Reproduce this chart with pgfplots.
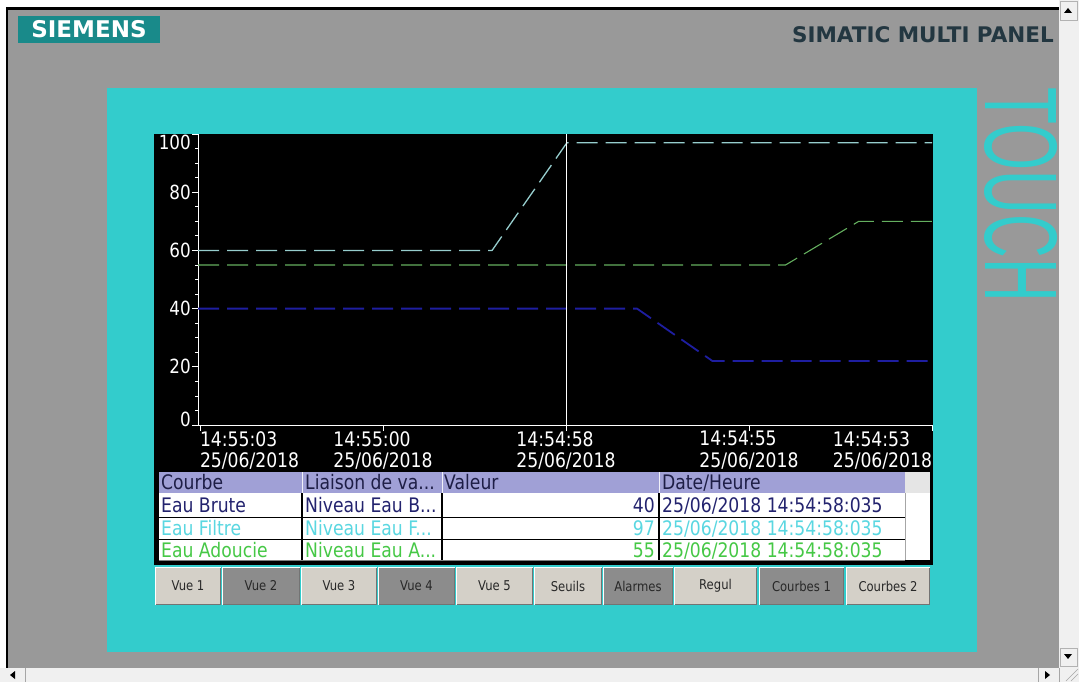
\documentclass[border=0pt]{standalone}
\usepackage{pgfplots}
\pgfplotsset{compat=1.18}
\usepackage{fontspec}
\setmainfont{DejaVu Sans}[FakeStretch=0.86]
\newfontfamily\boldsans{DejaVu Sans}
\newfontfamily\touchfont{Liberation Sans}
\definecolor{bggray}{RGB}{153,153,153}
\definecolor{panelcyan}{RGB}{51,204,204}
\definecolor{siemensteal}{RGB}{25,138,138}
\definecolor{simatic}{RGB}{35,55,65}
\definecolor{barbg}{RGB}{240,240,240}
\definecolor{hdr}{RGB}{160,160,214}
\definecolor{hdrtext}{RGB}{30,30,70}
\definecolor{cbrute}{RGB}{35,35,110}
\definecolor{cfiltre}{RGB}{90,215,225}
\definecolor{cadouc}{RGB}{70,200,70}
\definecolor{lbrute}{RGB}{30,30,160}
\definecolor{lfiltre}{RGB}{150,205,205}
\definecolor{ladouc}{RGB}{100,175,95}
\definecolor{btnlight}{RGB}{212,208,200}
\definecolor{btndark}{RGB}{140,140,140}
\definecolor{btntext}{RGB}{40,40,40}
\newcommand\tl[2]{\begin{tabular}{@{}l@{}}#1\\#2\end{tabular}}
\begin{document}
\begin{tikzpicture}[x=1pt,y=-1pt]
% background
\fill[white] (0,0) rectangle (1079,682);
\fill[bggray] (8,10) rectangle (1059,668);
\fill[black] (6,7) rectangle (1059,10);
\fill[black] (6,7) rectangle (8,668);
% right scrollbar
\fill[barbg] (1059,0) rectangle (1079,668);
\draw[gray!60] (1060.5,1.5) rectangle (1077.5,20);
\fill[black] (1064,13) -- (1072,13) -- (1068,8) -- cycle;
\draw[gray!60] (1060.5,648) rectangle (1077.5,666);
\fill[black] (1064,654) -- (1072,654) -- (1068,659) -- cycle;
% bottom scrollbar
\fill[barbg] (0,668) rectangle (1079,682);
\draw[gray!70] (25,668) -- (25,682);
\fill[black] (15,671) -- (15,679) -- (10,675) -- cycle;
\draw[gray!70] (1038,668) -- (1038,682);
\fill[black] (1045,671) -- (1045,679) -- (1050,675) -- cycle;
\draw[gray!70] (1059,668) -- (1059,682);
\draw[gray!70] (1066,681) -- (1078,669) (1071,681) -- (1078,674);
% SIEMENS logo
\fill[siemensteal] (18,16) rectangle (160,43);
\node[text=white, inner sep=0pt] at (89,29.5) {\boldsans\bfseries\fontsize{23}{23}\selectfont SIEMENS};
\node[text=simatic, inner sep=0pt, anchor=east] at (1054,35) {\boldsans\bfseries\fontsize{21.5}{22}\selectfont SIMATIC MULTI PANEL};
% cyan panel
\fill[panelcyan] (107,88) rectangle (977,652);
\node[rotate=-90, inner sep=0pt, text=panelcyan] at (1021,195) {\resizebox{214pt}{72pt}{\touchfont TOUCH}};
% black chart region
\fill[black] (154,134) rectangle (933,565);
\begin{axis}[
  at={(198pt,-425pt)}, anchor=south west,
  scale only axis, width=734pt, height=291pt,
  xmin=-0.011, xmax=4, ymin=0, ymax=100,
  axis x line=bottom, axis y line=left,
  axis line style={white, line width=0.9pt, -},
  xtick={0,1,2,3,4},
  xticklabels={
    {\makebox[0pt][l]{\tl{14:55:03}{25/06/2018}}},
    {\tl{14:55:00}{25/06/2018}},
    {\tl{14:54:58}{25/06/2018}},
    {\tl{14:54:55}{25/06/2018}},
    {\makebox[0pt][r]{\tl{14:54:53}{25/06/2018}}}},
  ytick={0,20,40,60,80,100},
  yticklabels={{\raisebox{6pt}[\height][\depth]{0}},20,40,60,80,{\raisebox{-8pt}[\height][\depth]{100}}},
  minor y tick num=3,
  tick align=outside,
  major tick length=6pt, minor tick length=3pt,
  tick style={white, line width=0.8pt},
  xticklabel style={white, font=\fontsize{20}{21}\selectfont, inner sep=0pt, anchor=north},
  yticklabel style={white, font=\fontsize{19.5}{20}\selectfont, inner sep=1pt, anchor=east},
  clip=false,
]
\addplot[lfiltre, line width=1.3pt, dash pattern=on 21pt off 8pt] coordinates {(-0.011,60) (1.596,60) (2.005,97) (4,97)};
\addplot[ladouc, line width=1.1pt, dash pattern=on 21pt off 8pt] coordinates {(-0.011,55) (3.20,55) (3.60,70) (4,70)};
\addplot[lbrute, line width=1.8pt, dash pattern=on 21pt off 8pt] coordinates {(-0.011,40) (2.388,40) (2.80,22) (4,22)};
\addplot[white, line width=1pt] coordinates {(2.0,0) (2.0,100)};
\end{axis}
% table
\fill[hdr] (159,472) rectangle (905,493);
\fill[gray!20] (905,472) rectangle (930,493);
\fill[white] (159,493) rectangle (930,560);
\draw[white!85!hdr, line width=1pt] (302,472) -- (302,493) (442,472) -- (442,493) (659,472) -- (659,493);
\draw[black, line width=1pt] (159,517) -- (905,517) (159,539) -- (905,539);
\draw[gray, line width=1pt] (159,560) -- (905,560);
\draw[gray!70, line width=0.6pt] (905,493) -- (905,560);
\draw[black, line width=1.4pt] (302,493) -- (302,560) (442,493) -- (442,560) (659,493) -- (659,560);
\begin{scope}[every node/.style={inner sep=0pt, font=\fontsize{20}{20}\selectfont}]
\node[anchor=base west, text=hdrtext] at (161,489) {Courbe};
\node[anchor=base west, text=hdrtext] at (305,489) {Liaison de va...};
\node[anchor=base west, text=hdrtext] at (444,489) {Valeur};
\node[anchor=base west, text=hdrtext] at (662,489) {Date/Heure};
\node[anchor=base west, text=cbrute] at (161,512) {Eau Brute};
\node[anchor=base west, text=cbrute] at (305,512) {Niveau Eau B...};
\node[anchor=base east, text=cbrute] at (655,512) {40};
\node[anchor=base west, text=cbrute] at (662,512) {25/06/2018 14:54:58:035};
\node[anchor=base west, text=cfiltre] at (161,535) {Eau Filtre};
\node[anchor=base west, text=cfiltre] at (305,535) {Niveau Eau F...};
\node[anchor=base east, text=cfiltre] at (655,535) {97};
\node[anchor=base west, text=cfiltre] at (662,535) {25/06/2018 14:54:58:035};
\node[anchor=base west, text=cadouc] at (161,557) {Eau Adoucie};
\node[anchor=base west, text=cadouc] at (305,557) {Niveau Eau A...};
\node[anchor=base east, text=cadouc] at (655,557) {55};
\node[anchor=base west, text=cadouc] at (662,557) {25/06/2018 14:54:58:035};
\end{scope}
% buttons
\foreach \a/\b/\lab/\col in {155/221/Vue 1/btnlight, 222/300/Vue 2/btndark, 301/377/Vue 3/btnlight, 378/455/Vue 4/btndark, 456/533/Vue 5/btnlight, 534/602/Seuils/btnlight, 603/673/Alarmes/btndark, 674/757/Regul/btnlight, 759/844/Courbes 1/btndark, 846/930/Courbes 2/btnlight}{
  \fill[\col] (\a,567) rectangle (\b,605);
  \draw[white, line width=1pt] (\a+0.5,605) -- (\a+0.5,567.5) -- (\b,567.5);
  \draw[black!55, line width=1pt] (\a+0.5,604.5) -- (\b-0.5,604.5) -- (\b-0.5,567.5);
  \node[text=btntext, inner sep=0pt, font=\fontsize{13.5}{14}\selectfont] at ({(\a+\b)/2},586) {\lab};
}
\pgfresetboundingbox
\path[use as bounding box] (0,0) rectangle (1079,682);
\end{tikzpicture}
\end{document}
